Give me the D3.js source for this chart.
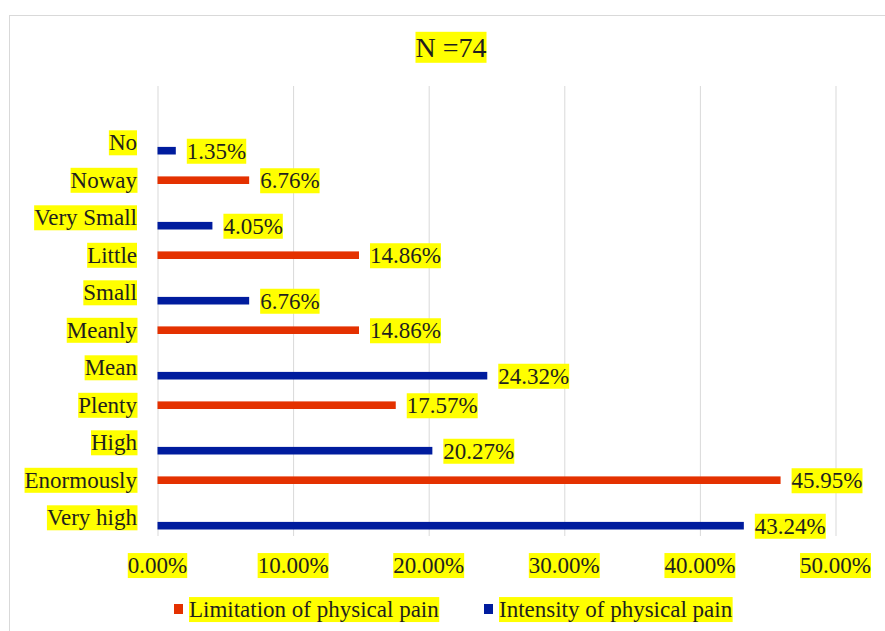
<!DOCTYPE html>
<html>
<head>
<meta charset="utf-8">
<script src="https://cdn.jsdelivr.net/npm/d3@7"></script>
<style>
  body { margin: 0; background: #fff; }
</style>
</head>
<body>
<div id="chart"></div>
<script>
const categories = ["No", "Noway", "Very Small", "Little", "Small", "Meanly", "Mean", "Plenty", "High", "Enormously", "Very high"];
const seriesNames = ["Limitation of physical pain", "Intensity of physical pain"];
const limitation = [0, 6.76, 0, 14.86, 0, 14.86, 0, 17.57, 0, 45.95, 0];
const intensity = [1.35, 0, 4.05, 0, 6.76, 0, 24.32, 0, 20.27, 0, 43.24];
const xTicks = [0, 10, 20, 30, 40, 50];
const colors = ["#e43100", "#001c9e"];
const FONT = "Liberation Serif";
const INK = "#1f1f1f";

function main() {
    const W = 885, H = 631;
    const svg = d3.select("#chart").append("svg")
        .attr("width", W)
        .attr("height", H)

    svg.append("rect").attr("width", W).attr("height", H).attr("fill", "#fff")
    // chart frame (runs off right and bottom)
    svg.append("rect")
        .attr("x", 9.5).attr("y", 15.5)
        .attr("width", 950).attr("height", 700)
        .attr("fill", "none").attr("stroke", "#d9d9d9")

    // text with a yellow box behind it
    function label(g, x, y, str, size, anchor) {
        const t = g.append("text")
            .attr("x", x).attr("y", y)
            .attr("dy", "0.35em")
            .attr("text-anchor", anchor)
            .attr("font-family", FONT)
            .attr("font-size", size)
            .attr("fill", INK)
            .text(str)
        const b = t.node().getBBox();
        g.insert("rect", () => t.node())
            .attr("x", b.x).attr("y", b.y)
            .attr("width", b.width).attr("height", b.height)
            .attr("fill", "#ffff00")
        return t
    }

    label(svg, 451, 47, "N =74", 28, "middle")

    const x = d3.scaleLinear().domain([0, 50]).range([157.5, 835.5])
    const y = d3.scaleBand().domain(categories).range([123.5, 536])
    const y1 = d3.scaleBand().domain(seriesNames).range([15.4, 31]).paddingInner(0.05)

    // gridlines
    svg.append("g").selectAll("line")
        .data(xTicks)
        .join("line")
        .attr("x1", d => x(d) + 0.5).attr("x2", d => x(d) + 0.5)
        .attr("y1", 86).attr("y2", 536)
        .attr("stroke", "#d9d9d9")

    // tick labels
    const tickG = svg.append("g")
    xTicks.forEach(t => label(tickG, x(t), 565, t.toFixed(2) + "%", 23, "middle"))

    // category labels
    const catG = svg.append("g")
    categories.forEach(c => label(catG, 137, y(c) + y.bandwidth() / 2, c, 23, "end"))

    const rows = [];
    categories.forEach((c, i) => {
        [limitation[i], intensity[i]].forEach((v, s) => {
            if (v > 0) rows.push({ cat: c, series: seriesNames[s], color: colors[s], value: v })
        })
    })

    svg.append("g").selectAll("rect")
        .data(rows)
        .join("rect")
        .attr("x", x(0))
        .attr("y", d => y(d.cat) + y1(d.series))
        .attr("width", d => x(d.value) - x(0))
        .attr("height", y1.bandwidth())
        .attr("fill", d => d.color)

    const labG = svg.append("g")
    rows.forEach(d => label(labG, x(d.value) + 11, y(d.cat) + y1(d.series) + y1.bandwidth() / 2,
        d.value.toFixed(2) + "%", 23, "start"))

    // legend
    const legX = [174, 484];
    const legG = svg.append("g")
    seriesNames.forEach((s, i) => {
        legG.append("rect")
            .attr("x", legX[i]).attr("y", 604)
            .attr("width", 9).attr("height", 10)
            .attr("fill", colors[i])
        label(legG, legX[i] + 15, 609, s, 23, "start")
    })
}
main();
</script>
</body>
</html>
